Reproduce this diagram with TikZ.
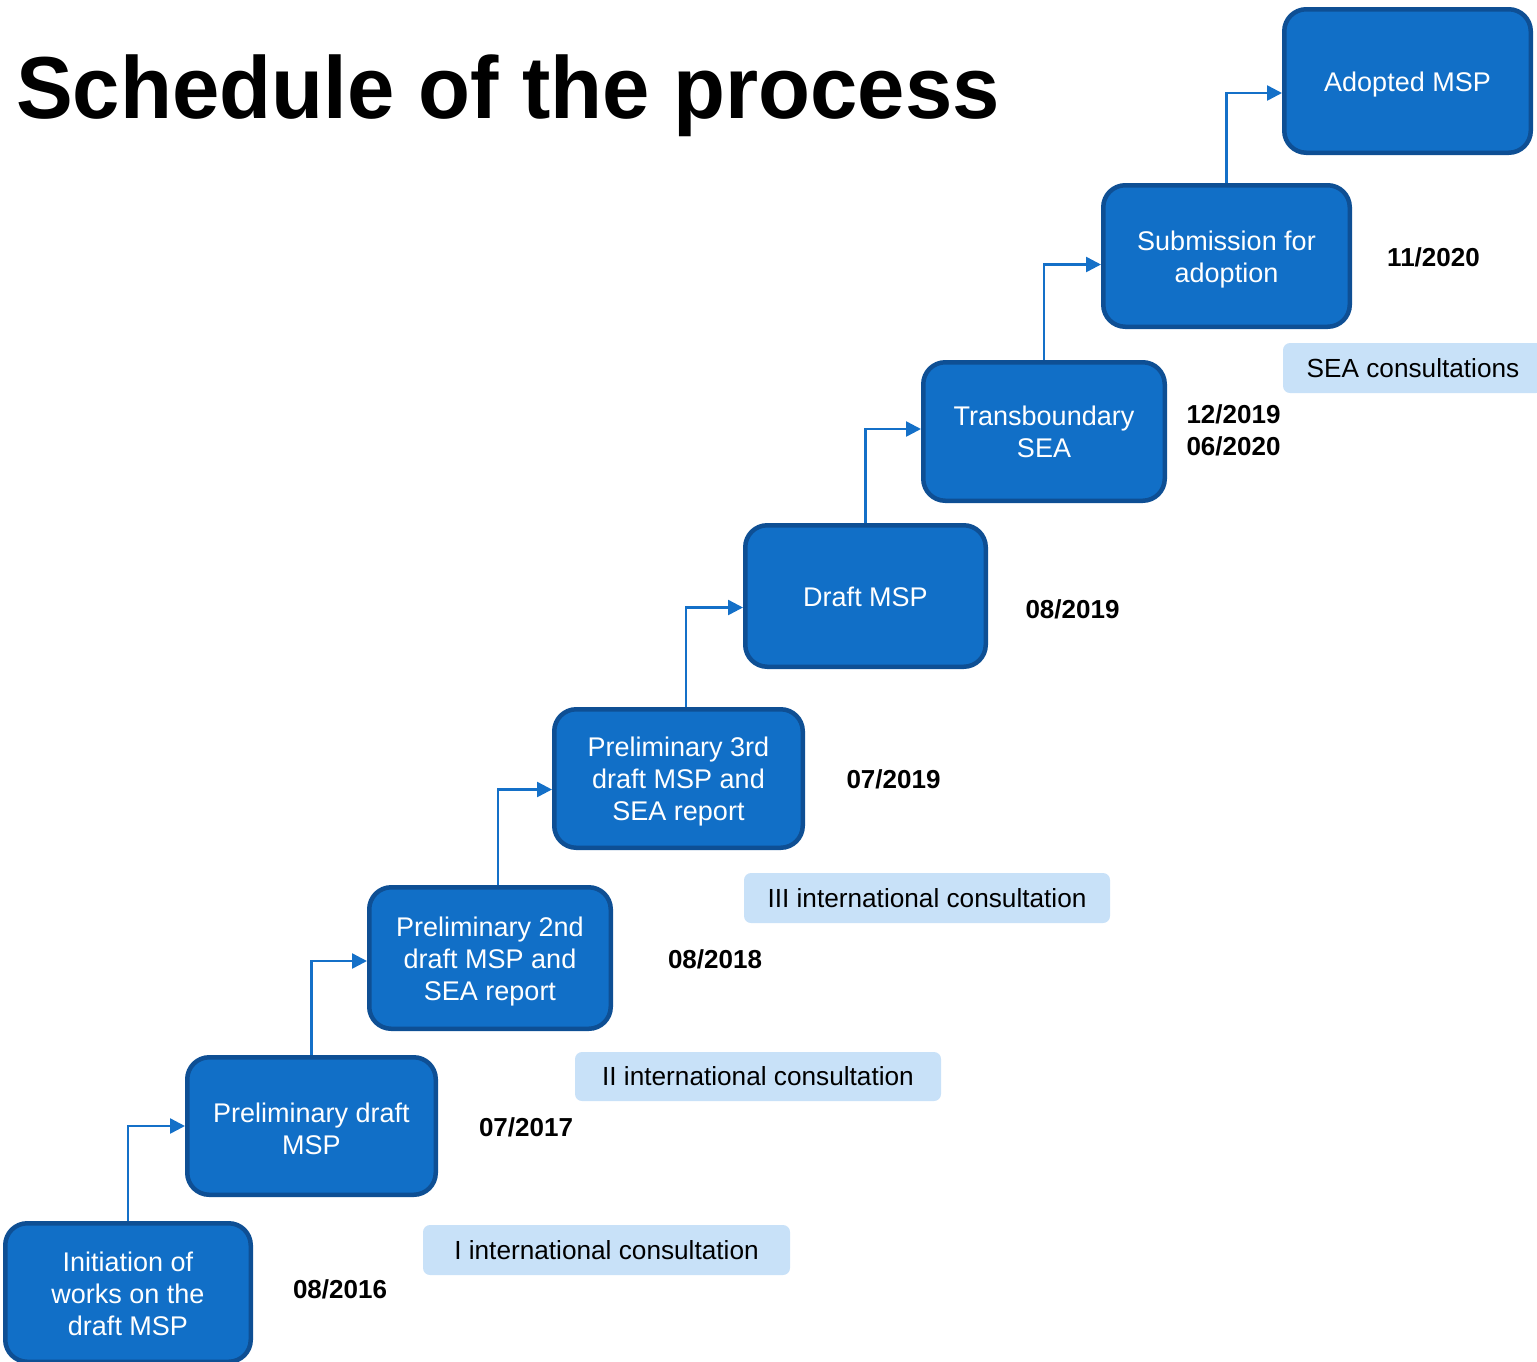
\documentclass[tikz,border=0pt]{standalone}
\usepackage{fontspec}
\setmainfont{Liberation Sans}
\usetikzlibrary{arrows.meta}
\definecolor{boxfill}{RGB}{17,111,199}
\definecolor{boxline}{RGB}{14,79,148}
\definecolor{lightfill}{RGB}{200,225,248}
\definecolor{connc}{RGB}{20,112,200}
\begin{document}
\begin{tikzpicture}[x=1pt,y=-1pt,
  stage/.style={draw=boxline, fill=boxfill, line width=4.5pt, rounded corners=22pt, inner sep=0pt},
  stagetext/.style={text=white, align=center, font=\fontsize{27}{32}\selectfont, inner sep=0pt},
  consult/.style={fill=lightfill, rounded corners=7pt, font=\fontsize{26.2}{31}\selectfont, inner sep=0pt},
  datelbl/.style={font=\bfseries\fontsize{26}{32}\selectfont, align=center, inner sep=0pt},
  conn/.style={draw=connc, line width=2.5pt, -{Triangle[length=15pt,width=15pt]}}]
\useasboundingbox (0,0) rectangle (1537,1361);

\node[anchor=base west, inner sep=0pt, font=\bfseries\fontsize{88}{100}\selectfont] (title) at (16,118) {\scalebox{0.967}[1]{Schedule of the process}};

% light consultation boxes
\node[consult, minimum width=367pt, minimum height=50pt] (c1) at (606.5,1250) {I international consultation};
\node[consult, minimum width=366pt, minimum height=49pt] (c2) at (758,1076.5) {II international consultation};
\node[consult, minimum width=366pt, minimum height=50pt] (c3) at (927,898) {III international consultation};
\node[consult, minimum width=260pt, minimum height=50pt] (c4) at (1413,368) {SEA consultations};

% stages (boxes)
\node[stage, minimum width=245.5pt, minimum height=138.5pt] (s1) at (128,1292.5) {};
\node[stage, minimum width=248.5pt, minimum height=137.5pt] (s2) at (311.5,1126) {};
\node[stage, minimum width=241.5pt, minimum height=141.5pt] (s3) at (490,958) {};
\node[stage, minimum width=248.5pt, minimum height=138.5pt] (s4) at (678.5,778.5) {};
\node[stage, minimum width=240.5pt, minimum height=141.5pt] (s5) at (865.5,596) {};
\node[stage, minimum width=241.5pt, minimum height=138.5pt] (s6) at (1044,431.5) {};
\node[stage, minimum width=246.5pt, minimum height=141.5pt] (s7) at (1226.5,256) {};
\node[stage, minimum width=246.5pt, minimum height=143.5pt] (s8) at (1407.5,81) {};

% stage texts
\node[stagetext] (t1) at ([yshift=-1pt]s1.center) {Initiation of\\works on the\\draft MSP};
\node[stagetext] (t2) at ([yshift=-3pt]s2.center) {Preliminary draft\\MSP};
\node[stagetext] (t3) at ([yshift=-4pt]s3.center) {Preliminary 2nd\\draft MSP and\\SEA report};
\node[stagetext] (t4) at ([yshift=-3pt]s4.center) {Preliminary 3rd\\draft MSP and\\SEA report};
\node[stagetext] (t5) at ([yshift=-1pt]s5.center) {Draft MSP};
\node[stagetext] (t6) at ([yshift=0pt]s6.center) {Transboundary\\SEA};
\node[stagetext] (t7) at ([yshift=-4pt]s7.center) {Submission for\\adoption};
\node[stagetext] (t8) at ([yshift=-4pt]s8.center) {Adopted MSP};

% dates
\node[datelbl] (d1) at (340,1289) {08/2016};
\node[datelbl] (d2) at (526,1127) {07/2017};
\node[datelbl] (d3) at (715,959) {08/2018};
\node[datelbl] (d4) at (893.5,779) {07/2019};
\node[datelbl] (d5) at (1072.5,609) {08/2019};
\node[datelbl] (d6) at (1233.5,430) {12/2019\\06/2020};
\node[datelbl] (d7) at (1433.5,257) {11/2020};

% connectors
\draw[conn] (s1.north) |- (s2.west);
\draw[conn] (s2.north) |- ([yshift=-3pt]s3.west);
\draw[conn] ([xshift=8pt]s3.north) |- ([yshift=-11pt]s4.west);
\draw[conn] ([xshift=7.5pt]s4.north) |- ([yshift=-11.5pt]s5.west);
\draw[conn] (s5.north) |- ([yshift=2.5pt]s6.west);
\draw[conn] (s6.north) |- ([yshift=-8.5pt]s7.west);
\draw[conn] (s7.north) |- ([yshift=-12pt]s8.west);
\end{tikzpicture}
\end{document}
